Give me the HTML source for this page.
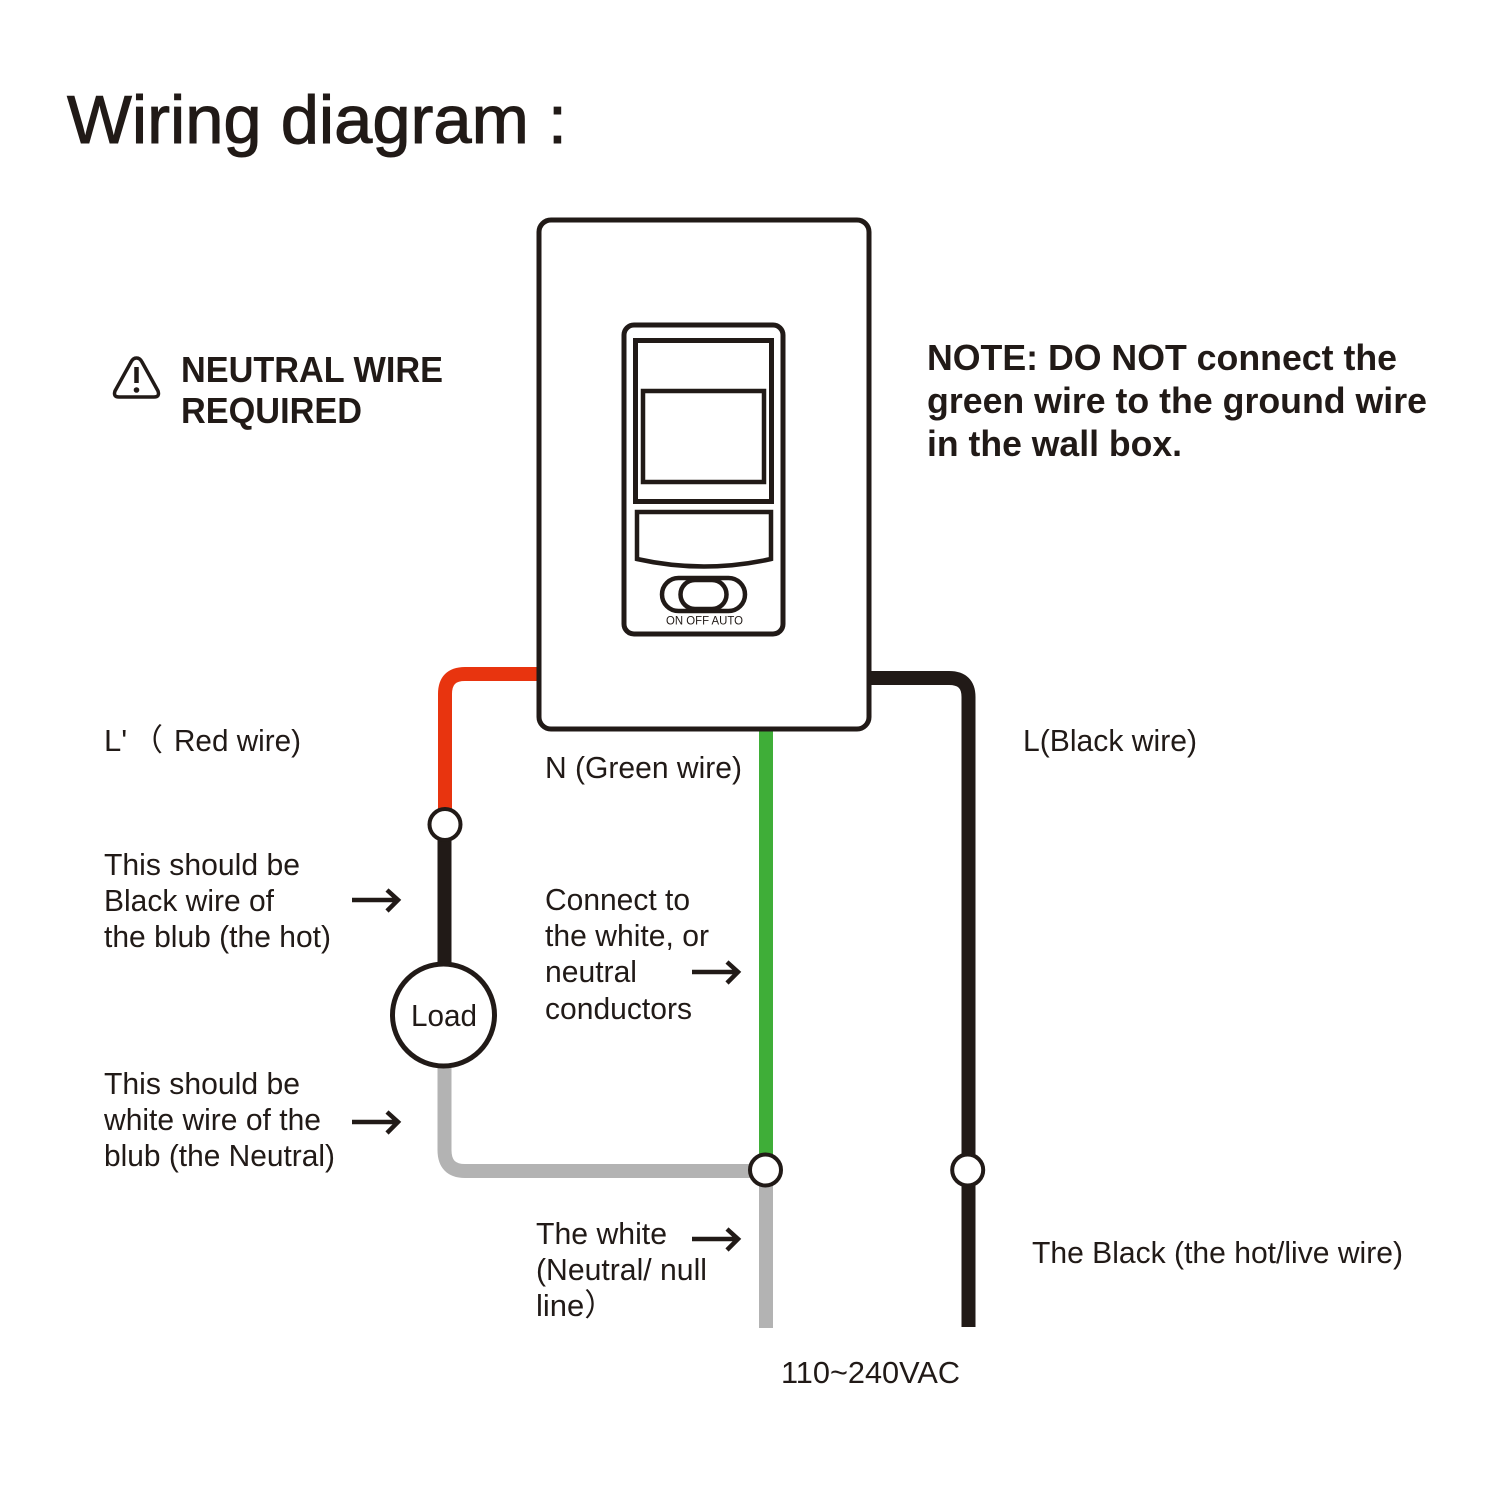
<!DOCTYPE html>
<html><head><meta charset="utf-8"><style>
html,body{margin:0;padding:0;background:#fff}
svg{display:block}
text{font-family:"Liberation Sans","Noto Sans CJK SC",sans-serif;fill:#211a17;font-size:31px}
.b{font-weight:bold;font-size:36px}
</style></head><body>
<svg xmlns="http://www.w3.org/2000/svg" width="1500" height="1500" viewBox="0 0 1500 1500">
<rect width="1500" height="1500" fill="#fff"/>
<text x="67" y="143" style="font-size:68px;stroke:#211a17;stroke-width:1" textLength="500" lengthAdjust="spacingAndGlyphs">Wiring diagram :</text>

<!-- wires -->
<g fill="none" stroke-width="14">
<path d="M445 812V694Q445 674 465 674H540" stroke="#e8340f"/>
<path d="M868 678H949Q968.500 678 968.500 697V1327" stroke="#211a17"/>
<path d="M766 728V1160" stroke="#3fae38"/>
<path d="M766 1180V1328" stroke="#b3b3b3"/>
<path d="M444.500 840V970" stroke="#211a17"/>
<path d="M444.500 1062V1150Q444.500 1171 465 1171H755" stroke="#b3b3b3"/>
</g>

<!-- plate -->
<rect x="539" y="220" width="330" height="509" rx="12" fill="#fff" stroke="#211a17" stroke-width="5"/>
<g fill="none" stroke="#211a17">
<rect x="624" y="325" width="159" height="309" rx="10" stroke-width="5"/>
<rect x="635.500" y="340.500" width="136" height="161" stroke-width="5"/>
<rect x="643" y="391" width="121" height="91" stroke-width="4.500"/>
<path d="M637 512H771V559Q704 574 637 559Z" stroke-width="4.500"/>
<rect x="662" y="578" width="83" height="33" rx="16.500" stroke-width="4.500"/>
<rect x="680.500" y="580" width="46" height="29" rx="14.500" stroke-width="4.500"/>
</g>
<text x="666" y="624.500" style="font-size:11.500px" textLength="77" lengthAdjust="spacingAndGlyphs">ON OFF AUTO</text>

<!-- junctions -->
<g fill="#fff" stroke="#211a17" stroke-width="4">
<circle cx="445" cy="824.500" r="15.500"/>
<circle cx="765.500" cy="1170" r="15.500"/>
<circle cx="967.700" cy="1170" r="15.500"/>
<circle cx="443.500" cy="1015" r="51" stroke-width="5"/>
</g>
<text x="411" y="1026" textLength="66" lengthAdjust="spacingAndGlyphs">Load</text>

<!-- arrows -->
<g fill="none" stroke="#211a17" stroke-width="4.500">
<path d="M352 900H397M387 890L398 900L387 911"/>
<path d="M352 1122H397M387 1112L398 1122L387 1133"/>
<path d="M692 972H737M727 962L738 972L727 983"/>
<path d="M692 1239H737M727 1229L738 1239L727 1250"/>
</g>

<!-- warning -->
<path d="M136.500 358Q133 358 131 362L115 391Q113 397 119 397H154Q160 397 158 391L142 362Q140 358 136.500 358Z" fill="none" stroke="#211a17" stroke-width="3.500"/>
<path d="M136.500 367V383" stroke="#211a17" stroke-width="4.500" fill="none"/>
<circle cx="136.500" cy="390" r="2.800" fill="#211a17"/>

<text class="b" x="181" y="382" textLength="262" lengthAdjust="spacingAndGlyphs">NEUTRAL WIRE</text>
<text class="b" x="181" y="423" textLength="181" lengthAdjust="spacingAndGlyphs">REQUIRED</text>
<text class="b" x="927" y="370" textLength="470" lengthAdjust="spacingAndGlyphs">NOTE: DO NOT connect the</text>
<text class="b" x="927" y="413" textLength="500" lengthAdjust="spacingAndGlyphs">green wire to the ground wire</text>
<text class="b" x="927" y="456" textLength="255" lengthAdjust="spacingAndGlyphs">in the wall box.</text>

<text x="104" y="751">L'</text>
<text x="132" y="751">（</text>
<text x="174" y="751" textLength="127" lengthAdjust="spacingAndGlyphs">Red wire)</text>
<text x="545" y="778" textLength="197" lengthAdjust="spacingAndGlyphs">N (Green wire)</text>
<text x="1023" y="751" textLength="174" lengthAdjust="spacingAndGlyphs">L(Black wire)</text>

<text x="104" y="875" textLength="196" lengthAdjust="spacingAndGlyphs">This should be</text>
<text x="104" y="911" textLength="170" lengthAdjust="spacingAndGlyphs">Black wire of</text>
<text x="104" y="947" textLength="227" lengthAdjust="spacingAndGlyphs">the blub (the hot)</text>

<text x="545" y="910" textLength="145" lengthAdjust="spacingAndGlyphs">Connect to</text>
<text x="545" y="946" textLength="164" lengthAdjust="spacingAndGlyphs">the white, or</text>
<text x="545" y="982" textLength="92" lengthAdjust="spacingAndGlyphs">neutral</text>
<text x="545" y="1019" textLength="147" lengthAdjust="spacingAndGlyphs">conductors</text>

<text x="104" y="1094" textLength="196" lengthAdjust="spacingAndGlyphs">This should be</text>
<text x="104" y="1130" textLength="217" lengthAdjust="spacingAndGlyphs">white wire of the</text>
<text x="104" y="1166" textLength="231" lengthAdjust="spacingAndGlyphs">blub (the Neutral)</text>

<text x="536" y="1244" textLength="131" lengthAdjust="spacingAndGlyphs">The white</text>
<text x="536" y="1280" textLength="171" lengthAdjust="spacingAndGlyphs">(Neutral/ null</text>
<text x="536" y="1316">line）</text>

<text x="1032" y="1263" textLength="371" lengthAdjust="spacingAndGlyphs">The Black (the hot/live wire)</text>
<text x="781" y="1383" textLength="179" lengthAdjust="spacingAndGlyphs">110~240VAC</text>
</svg>
</body></html>
